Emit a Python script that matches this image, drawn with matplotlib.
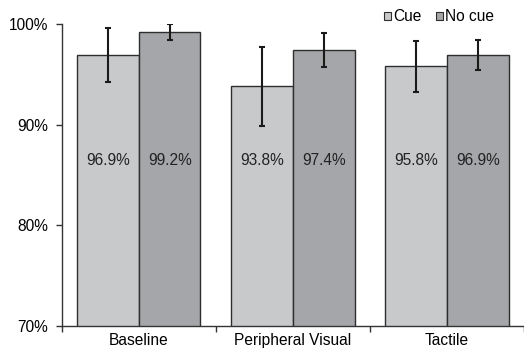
import matplotlib
matplotlib.use("Agg")
import matplotlib.pyplot as plt
from matplotlib.patches import Patch
from matplotlib.ticker import FixedLocator, NullFormatter
import numpy as np

plt.rcParams['font.family'] = ['Liberation Sans', 'DejaVu Sans']

categories = ["Baseline", "Peripheral Visual", "Tactile"]
series = ["Cue", "No cue"]
cue_values = [96.9, 93.8, 95.8]
nocue_values = [99.2, 97.4, 96.9]
cue_err = [2.7, 3.9, 2.5]
nocue_err = [0.8, 1.7, 1.5]
ytick_labels = ["70%", "80%", "90%", "100%"]

fig = plt.figure(figsize=(5.24, 3.54), dpi=100)
ax = fig.add_axes([0.118, 0.079, 0.882, 0.853])

x = np.arange(len(categories)) + 0.5
w = 0.4
colors = ["#c8c9cb", "#a5a6a9"]
edge = "#2e2e2e"
fs = 11.2

for vals, errs, off, col in [(cue_values, cue_err, -w / 2, colors[0]),
                             (nocue_values, nocue_err, w / 2, colors[1])]:
    ax.bar(x + off, vals, width=w, color=col, edgecolor=edge, linewidth=1.0, zorder=2)
    ax.errorbar(x + off, vals, yerr=errs, fmt="none", ecolor="#1a1a1a",
                elinewidth=1.5, capsize=2.0, capthick=1.5, zorder=3)
    for xi, v in zip(x + off, vals):
        ax.text(xi, 86.4, f"{v:.1f}%", ha="center", va="center", fontsize=fs, color="#222222", zorder=4)

ax.set_xlim(0, 3)
ax.set_ylim(70, 100)
ax.set_yticks([70, 80, 90, 100])
ax.set_yticklabels(ytick_labels, fontsize=fs)
ax.set_xticks(x)
ax.set_xticklabels(categories, fontsize=fs)
ax.tick_params(axis="x", which="major", length=0, pad=5)
ax.xaxis.set_minor_locator(FixedLocator([0, 1, 2, 3]))
ax.xaxis.set_minor_formatter(NullFormatter())
ax.tick_params(axis="x", which="minor", length=4, width=1, color="#333333", direction="out")
ax.tick_params(axis="y", length=4, width=1, color="#333333", direction="out", pad=6)

for s in ["top", "right"]:
    ax.spines[s].set_visible(False)
for s in ["left", "bottom"]:
    ax.spines[s].set_color("#333333")
    ax.spines[s].set_linewidth(1.0)
ax.spines["bottom"].set_zorder(5)

handles = [Patch(facecolor=colors[0], edgecolor=edge, linewidth=0.8),
           Patch(facecolor=colors[1], edgecolor=edge, linewidth=0.8)]
fig.legend(handles, series, loc="center right", bbox_to_anchor=(0.955, 0.952),
           ncol=2, frameon=False, fontsize=fs, handlelength=0.45, handleheight=0.45,
           handletextpad=0.15, columnspacing=0.9, borderaxespad=0)

fig.savefig("out.png", dpi=100)
